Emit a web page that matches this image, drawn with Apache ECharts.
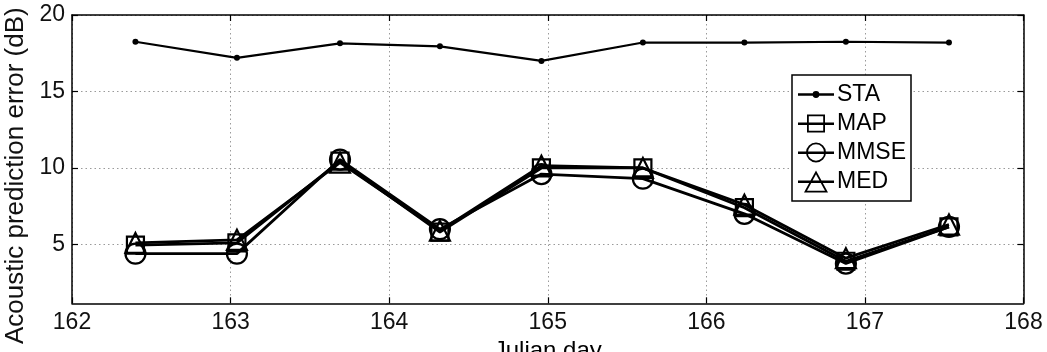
<!DOCTYPE html>
<html>
<head>
<meta charset="utf-8">
<script src="https://cdn.jsdelivr.net/npm/echarts@6/dist/echarts.min.js"></script>
<style>
  html, body { margin: 0; padding: 0; background: #fff; }
  #chart { width: 1047px; height: 352px; }
</style>
</head>
<body>
<div id="chart"></div>
<script>
// Julian day of each estimate
const days = [162.40, 163.04, 163.69, 164.32, 164.96, 165.60, 166.24, 166.88, 167.53]
// acoustic prediction error (dB) per method
const sta = [18.25, 17.2, 18.15, 17.95, 17.0, 18.2, 18.2, 18.25, 18.2]
const map = [4.95, 5.1, 10.45, 5.8, 10.0, 10.0, 7.4, 3.9, 6.15]
const mmse = [4.4, 4.4, 10.55, 6.0, 9.6, 9.3, 7.0, 3.75, 6.15]
const med = [5.1, 5.3, 10.35, 5.9, 10.15, 10.0, 7.6, 4.1, 6.3]
const yTicks = [5, 10, 15, 20]

const font = '"Liberation Sans", Arial, sans-serif'
const gridLine = { show: true, lineStyle: { color: '#9a9a9a', width: 1, type: [1.5, 3] } }
const axisLine = { show: true, lineStyle: { color: '#000', width: 1.5 } }
const inTick = { show: true, inside: true, length: 6, lineStyle: { color: '#000', width: 1.2 } }

// legend icons: line with hollow marker on it
const lineBar = 'M0 10L36 10L36 12.4L0 12.4Z'
const icons = {
  STA: 'path://' + lineBar + 'M14.6 11.2A3.4 3.4 0 1 1 21.4 11.2A3.4 3.4 0 1 1 14.6 11.2Z',
  MAP: 'path://' + lineBar + 'M9 2L27 2L27 20L9 20ZM10.8 3.8L10.8 18.2L25.2 18.2L25.2 3.8Z',
  MMSE: 'path://' + lineBar + 'M8 11A10 10 0 1 1 28 11A10 10 0 1 1 8 11ZM9.8 11A8.2 8.2 0 1 0 26.2 11A8.2 8.2 0 1 0 9.8 11Z',
  MED: 'path://' + lineBar + 'M18 0L30 22L6 22ZM18 3.8L9 20.2L27 20.2Z'
}

function pts(vals) {
  return days.map((d, i) => [d, vals[i]])
}

function lineSeries(name, vals, symbol, size, width) {
  return {
    name,
    type: 'line',
    data: pts(vals),
    symbol,
    symbolSize: size,
    lineStyle: { color: '#000', width },
    itemStyle: name === 'STA'
      ? { color: '#000' }
      : { color: 'rgba(0,0,0,0)', borderColor: '#000', borderWidth: 2.2 },
    emphasis: { disabled: true },
    z: 3
  }
}

const chart = echarts.init(document.getElementById('chart'), null, { renderer: 'canvas' })
chart.setOption({
  animation: false,
  backgroundColor: '#fff',
  textStyle: { fontFamily: font, color: '#000' },
  grid: { left: 72, right: 23.5, top: 15, bottom: 48.7, outerBoundsMode: 'none', containLabel: false },
  legend: {
    orient: 'vertical',
    left: 792,
    top: 75,
    padding: [8, 5, 8, 6],
    itemGap: 6,
    itemWidth: 36,
    itemHeight: 22,
    backgroundColor: '#fff',
    borderColor: '#000',
    borderWidth: 1.5,
    borderRadius: 0,
    selectedMode: false,
    itemStyle: { color: '#000', borderWidth: 0 },
    textStyle: { fontFamily: font, fontSize: 23, color: '#000', padding: [0, 0, 0, -2] },
    data: ['STA', 'MAP', 'MMSE', 'MED'].map(n => ({ name: n, icon: icons[n] }))
  },
  xAxis: [
    {
      type: 'value',
      min: 162,
      max: 168,
      interval: 1,
      name: 'Julian day',
      nameLocation: 'middle',
      nameGap: 27,
      nameTextStyle: { fontFamily: font, fontSize: 24, color: '#000' },
      axisLine,
      axisTick: inTick,
      axisLabel: { margin: 8, fontSize: 23, fontFamily: font, color: '#111' },
      splitLine: gridLine
    },
    {
      type: 'value',
      position: 'top',
      min: 162,
      max: 168,
      interval: 1,
      axisLine,
      axisTick: inTick,
      axisLabel: { show: false },
      splitLine: { show: false }
    }
  ],
  yAxis: [
    {
      type: 'value',
      min: 1.15,
      max: 20,
      name: 'Acoustic prediction error (dB)',
      nameLocation: 'middle',
      nameGap: 38,
      nameTextStyle: { fontFamily: font, fontSize: 26, color: '#111', padding: [0, 33, 0, 0] },
      axisLine,
      axisTick: Object.assign({ customValues: yTicks }, inTick),
      axisLabel: { customValues: yTicks, margin: 7, fontSize: 23, fontFamily: font, color: '#111' },
      splitLine: gridLine
    },
    {
      type: 'value',
      position: 'right',
      min: 1.15,
      max: 20,
      axisLine,
      axisTick: Object.assign({ customValues: yTicks }, inTick),
      axisLabel: { show: false },
      splitLine: { show: false }
    }
  ],
  series: [
    lineSeries('STA', sta, 'circle', 6, 2.2),
    lineSeries('MAP', map, 'rect', 17, 2.8),
    lineSeries('MMSE', mmse, 'circle', 20, 2.8),
    lineSeries('MED', med, 'triangle', 20, 2.8)
  ]
})
</script>
</body>
</html>
